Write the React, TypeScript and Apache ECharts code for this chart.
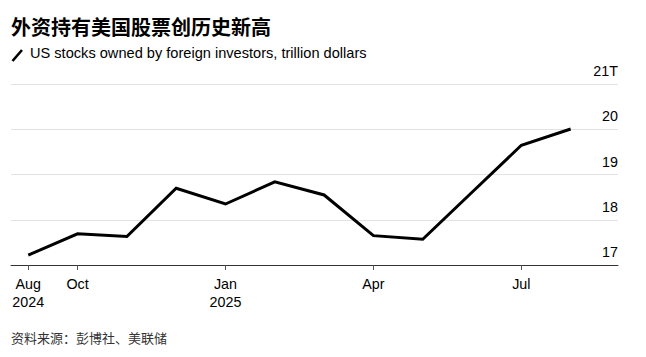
import React, { useEffect, useRef } from "react";
import * as echarts from "echarts";

const months = ["2024-08", "2024-09", "2024-10", "2024-11", "2024-12", "2025-01", "2025-02", "2025-03", "2025-04", "2025-05", "2025-06", "2025-07"];
const values = [17.22, 17.69, 17.63, 18.7, 18.35, 18.84, 18.55, 17.65, 17.57, 18.61, 19.65, 20.01];
const tickIdx = [0, 1, 4, 7, 10];
const tickLabels = ["Aug\n2024", "Oct", "Jan\n2025", "Apr", "Jul"];
const yTicks = [17, 18, 19, 20, 21];

const LATIN = "'Liberation Sans', Arial, Helvetica, sans-serif";
const CJK = "'Noto Sans CJK SC', 'Liberation Sans', sans-serif";

export default function App() {
  const ref = useRef<HTMLDivElement>(null);
  useEffect(() => {
    if (!ref.current) return;
    const chart = echarts.init(ref.current, null, { renderer: "svg" });
    const data = values.map((v, i) => [i, v]);
    chart.setOption({
      animation: false,
      backgroundColor: "#ffffff",
      graphic: [
        {
          type: "text",
          left: 11,
          top: 16,
          style: { text: "外资持有美国股票创历史新高", font: `bold 20px ${CJK}`, fill: "#000" },
        },
        {
          type: "line",
          shape: { x1: 12.5, y1: 61, x2: 22, y2: 50 },
          style: { stroke: "#000", lineWidth: 2.6 },
        },
        {
          type: "text",
          left: 30,
          top: 45,
          style: { text: "US stocks owned by foreign investors, trillion dollars", font: `14.6px ${LATIN}`, fill: "#000" },
        },
        {
          type: "text",
          left: 11,
          top: 331,
          style: { text: "资料来源：彭博社、美联储", font: `13px ${CJK}`, fill: "#333" },
        },
      ],
      grid: { left: 11, right: 28, top: 84.3, bottom: 92, containLabel: false },
      xAxis: {
        type: "value",
        min: -0.35,
        max: 11.96,
        splitLine: { show: false },
        axisLine: { show: true, lineStyle: { color: "#333", width: 1 } },
        axisTick: { show: true, customValues: tickIdx, length: 5, lineStyle: { color: "#555" } },
        axisLabel: {
          customValues: tickIdx,
          margin: 10,
          color: "#000",
          fontFamily: LATIN,
          fontSize: 14.3,
          lineHeight: 18,
          formatter: (v: number) => {
            const k = tickIdx.indexOf(Math.round(v));
            return k >= 0 ? tickLabels[k] : "";
          },
        },
      },
      yAxis: {
        type: "value",
        position: "right",
        min: 17,
        max: 21,
        interval: 1,
        axisLine: { show: false },
        axisTick: { show: false },
        splitLine: { show: true, lineStyle: { color: "#e2e2e2", width: 1 } },
        axisLabel: {
          inside: true,
          margin: 0,
          align: "right",
          verticalAlign: "bottom",
          lineHeight: 14,
          padding: [0, 0, 6, 0],
          color: "#000",
          fontFamily: LATIN,
          fontSize: 14.3,
          formatter: (v: number) => (v === yTicks[yTicks.length - 1] ? `${v}T` : `${v}`),
        },
      },
      series: [
        {
          type: "line",
          name: "US stocks owned by foreign investors",
          data,
          showSymbol: false,
          lineStyle: { color: "#000", width: 3, join: "miter" },
          itemStyle: { color: "#000" },
          z: 5,
        },
      ],
    });
    return () => chart.dispose();
  }, []);
  return <div ref={ref} style={{ position: "absolute", left: 0, top: 0, width: 646, height: 357 }} />;
}
